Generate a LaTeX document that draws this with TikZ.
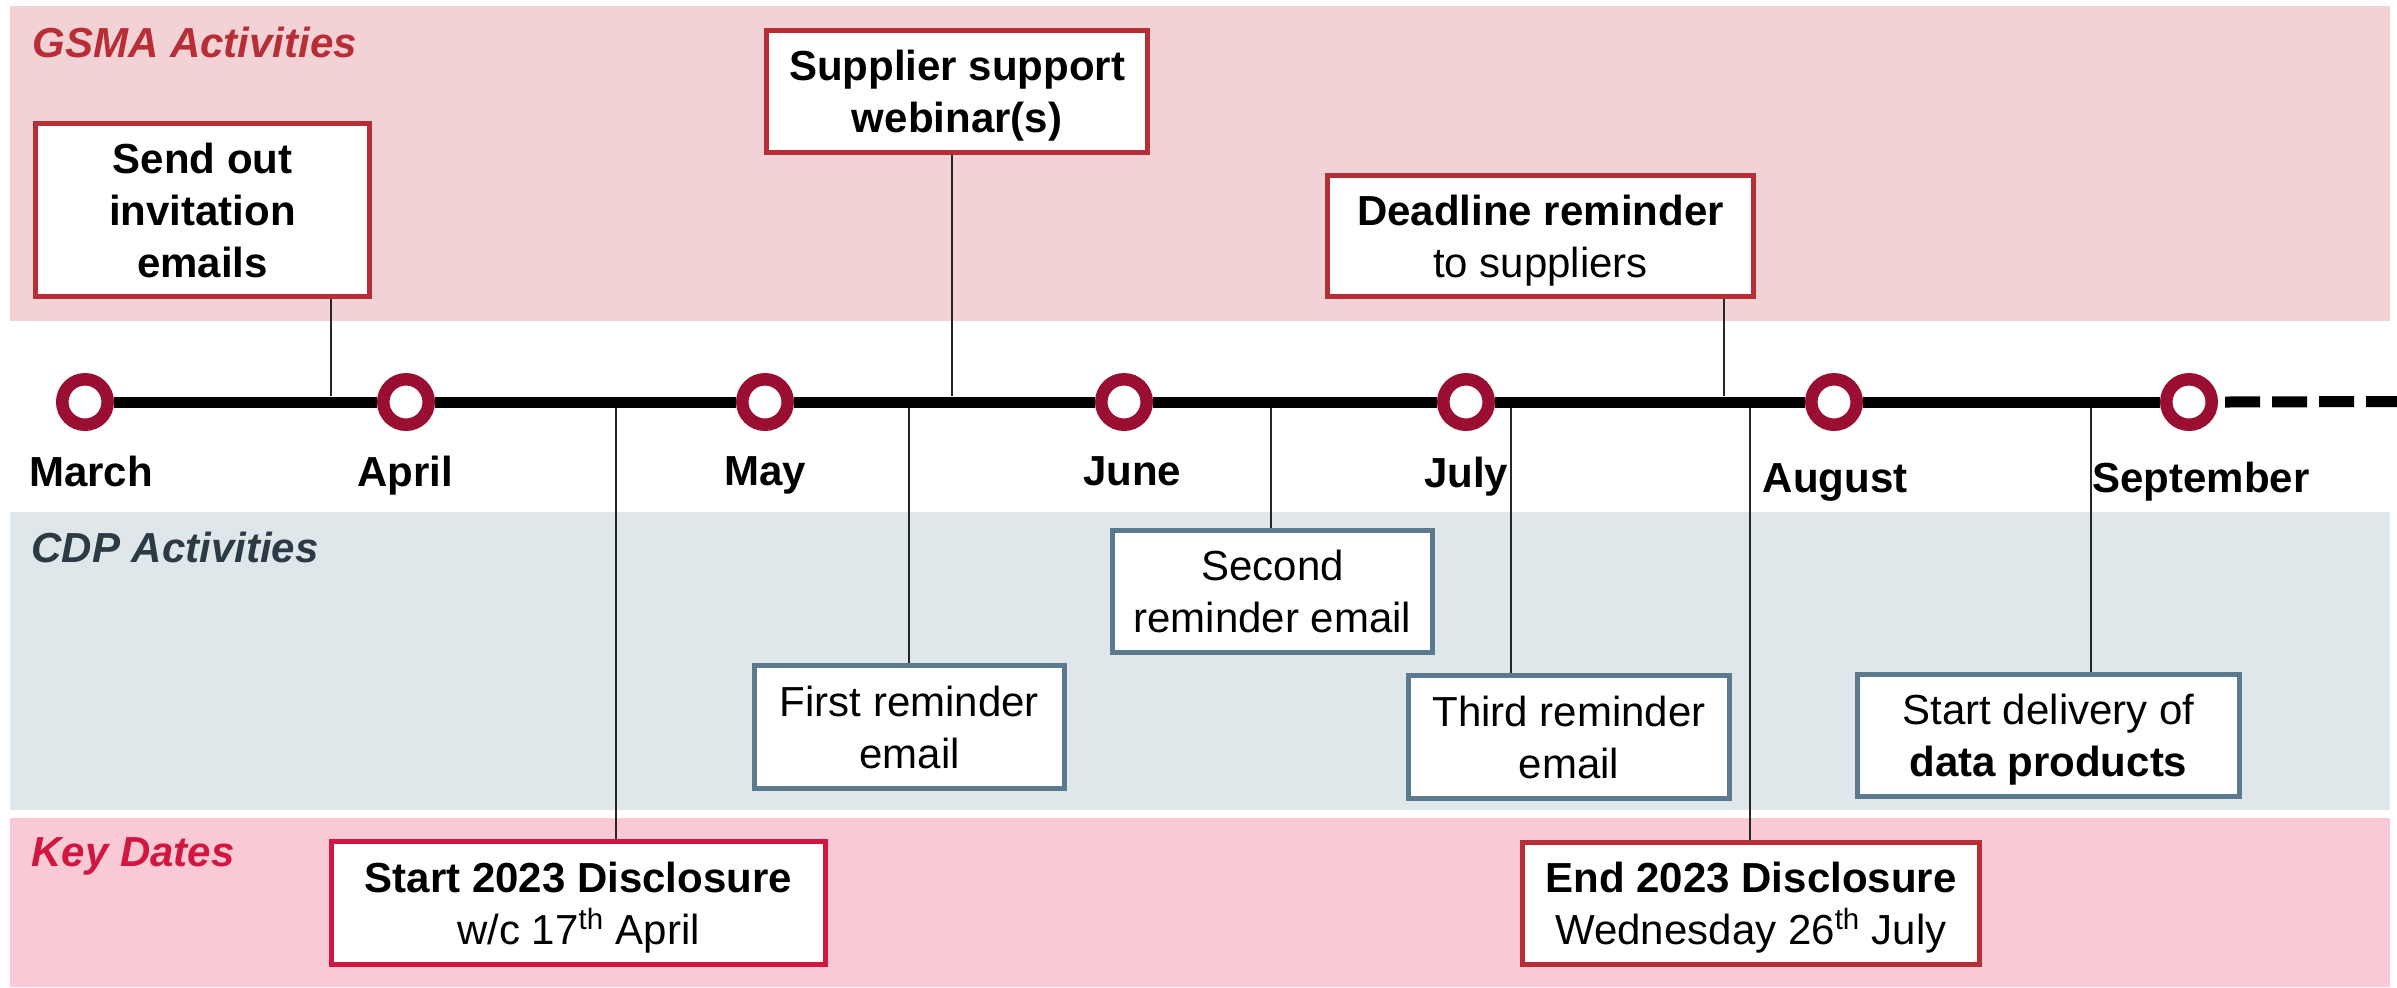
\documentclass[tikz,border=0pt]{standalone}
\usepackage{fontspec}
\setmainfont{Liberation Sans}
\definecolor{gsmaband}{HTML}{F2D2D5}
\definecolor{gsmared}{HTML}{B72E36}
\definecolor{ringred}{HTML}{9A0E32}
\definecolor{cdpband}{HTML}{E0E7EA}
\definecolor{cdpborder}{HTML}{5B7A8D}
\definecolor{cdptitle}{HTML}{2C3A45}
\definecolor{keyband}{HTML}{F9C9D5}
\definecolor{keyred}{HTML}{D1173F}
\tikzset{
  txt/.style={font=\fontsize{21}{26}\selectfont},
  box/.style={draw, line width=2.5pt, fill=white, inner sep=0pt, align=center, txt, text depth=0pt},
  gbox/.style={box, draw=gsmared},
  cbox/.style={box, draw=cdpborder},
  kbox/.style={box, draw=keyred},
  conn/.style={line width=0.6pt, draw=black!85},
  month/.style={anchor=base, inner sep=0pt, font=\fontsize{21}{25.5}\selectfont\bfseries},
  ttl/.style={anchor=base west, inner sep=0pt, font=\fontsize{21}{25.5}\selectfont\bfseries\itshape},
  ring/.style={draw=ringred, fill=white, line width=6.25pt, circle, minimum size=22.75pt, inner sep=0pt}
}
\begin{document}
\begin{tikzpicture}[x=0.5pt,y=-0.5pt]
\useasboundingbox (0,0) rectangle (2397,987);
% bands
\fill[gsmaband] (10,6) rectangle (2390,321);
\fill[cdpband] (10,512) rectangle (2390,810);
\fill[keyband] (10,818) rectangle (2390,987);
% titles
\node[ttl, text=gsmared] (tg) at (32,57) {GSMA Activities};
\node[ttl, text=cdptitle] (tc) at (31,562) {CDP Activities};
\node[ttl, text=keyred] (tk) at (31,866) {Key Dates};
% boxes
\node[gbox, minimum width=167pt, minimum height=86.5pt] (sendout) at (202.5,210) {\bfseries Send out\\\bfseries invitation\\\bfseries emails};
\node[gbox, minimum width=190.5pt, minimum height=61pt] (supplier) at (957,91.5) {\bfseries Supplier support\\\bfseries webinar(s)};
\node[gbox, minimum width=213pt, minimum height=60.5pt] (deadline) at (1540.5,236) {\bfseries Deadline reminder\\to suppliers};
\node[cbox, minimum width=155pt, minimum height=61.5pt] (first) at (909.5,727) {First reminder\\email};
\node[cbox, minimum width=160pt, minimum height=61pt] (second) at (1272.5,591.5) {Second\\reminder email};
\node[cbox, minimum width=160.5pt, minimum height=61.5pt] (third) at (1569,737) {Third reminder\\email};
\node[cbox, minimum width=191pt, minimum height=61pt] (delivery) at (2048.5,735.5) {Start delivery of\\\bfseries data products};
\node[kbox, minimum width=247pt, minimum height=61.5pt] (startdisc) at (578.5,903) {\bfseries Start 2023 Disclosure\\w/c 17\textsuperscript{th} April};
\node[gbox, minimum width=228.5pt, minimum height=61pt] (enddisc) at (1751,903.5) {\bfseries End 2023 Disclosure\\Wednesday 26\textsuperscript{th} July};
% connector anchor points on the timeline
\coordinate (a1) at (331,396);
\coordinate (a2) at (952,396);
\coordinate (a3) at (1724,396);
\coordinate (b1) at (616,407);
\coordinate (b2) at (909,407);
\coordinate (b3) at (1271,407);
\coordinate (b4) at (1511,407);
\coordinate (b5) at (1750,407);
\coordinate (b6) at (2091,407);
\draw[conn] (sendout.south -| a1) -- (a1);
\draw[conn] (supplier.south -| a2) -- (a2);
\draw[conn] (deadline.south -| a3) -- (a3);
\draw[conn] (b1) -- (startdisc.north -| b1);
\draw[conn] (b2) -- (first.north -| b2);
\draw[conn] (b3) -- (second.north -| b3);
\draw[conn] (b4) -- (third.north -| b4);
\draw[conn] (b5) -- (enddisc.north -| b5);
\draw[conn] (b6) -- (delivery.north -| b6);
% timeline
\coordinate (tend) at (2397,401.5);
\node[ring] (mar) at (85,402) {};
\node[ring] (apr) at (406,402) {};
\node[ring] (may) at (765,402) {};
\node[ring] (jun) at (1124,402) {};
\node[ring] (jul) at (1466,402) {};
\node[ring] (aug) at (1834,402) {};
\node[ring] (sep) at (2189,402) {};
\draw[line width=5.5pt] (mar.east) -- (apr.west) (apr.east) -- (may.west) (may.east) -- (jun.west) (jun.east) -- (jul.west) (jul.east) -- (aug.west) (aug.east) -- (sep.west);
\draw[line width=5.5pt, dash pattern=on 17.5pt off 6pt] ([xshift=3.5pt]sep.east) -- (tend);
% month labels
\node[month] (lmar) at (91,486) {March};
\node[month] (lapr) at (405,486) {April};
\node[month] (lmay) at (765,485) {May};
\node[month] (ljun) at (1132,485) {June};
\node[month] (ljul) at (1466,487) {July};
\node[month] (laug) at (1835,492) {August};
\node[month] (lsep) at (2201,492) {September};
\end{tikzpicture}
\end{document}
